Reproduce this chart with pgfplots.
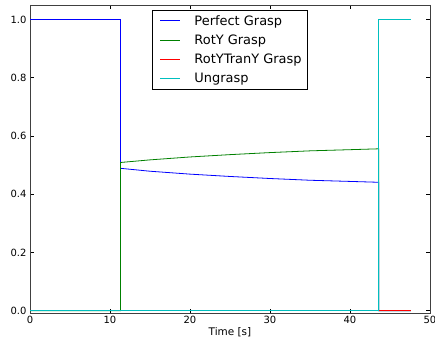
\documentclass[border=0pt]{standalone}
\usepackage{fontspec}
\setmainfont{DejaVu Sans}
\usepackage{pgfplots}
\pgfplotsset{compat=1.18}
\definecolor{mblue}{rgb}{0,0,1}
\definecolor{mgreen}{rgb}{0,0.5,0}
\definecolor{mred}{rgb}{1,0,0}
\definecolor{mcyan}{rgb}{0,0.75,0.75}
\begin{document}
\begin{tikzpicture}
\useasboundingbox (-30bp,-34bp) rectangle (405bp,313bp);
\begin{axis}[
  at={(0,0)}, anchor=south west,
  scale only axis, width=400bp, height=308bp,
  xmin=0, xmax=50, ymin=-0.008, ymax=1.05,
  xtick={0,10,20,30,40,50}, ytick={0,0.2,0.4,0.6,0.8,1.0},
  yticklabel style={/pgf/number format/.cd, fixed, fixed zerofill, precision=1},
  /pgf/number format/assume math mode=true,
  tick align=inside, major tick length=4bp,
  tick style={black, line width=0.6bp},
  axis line style={black!75, line width=0.9bp},
  ticklabel style={font=\fontsize{10}{12}\selectfont},
  xlabel={Time [s]}, xlabel style={font=\fontsize{10.5}{12}\selectfont, yshift=3bp},
  legend image code/.code={\draw[#1] (0bp,0bp) -- (20bp,0bp); \path[draw=none] (-2bp,0bp) rectangle (34bp,0bp);},
  legend style={at={(0.5,0.984)}, anchor=north, font=\fontsize{13}{15}\selectfont,
    draw=black, line width=0.6bp, inner xsep=6bp, inner ysep=1bp,
    nodes={inner sep=0pt, minimum height=19.2bp}},
  legend cell align=left,
  every axis plot/.append style={line width=0.8bp},
]
\addplot[mblue, sharp plot] coordinates {(0,1) (11.3,1) (11.3,0.489) (15,0.479) (20,0.469) (25,0.461) (30,0.454) (35,0.448) (40,0.444) (43.6,0.441) (43.6,0) (47.6,0)};
\addlegendentry{Perfect Grasp}
\addplot[mgreen, sharp plot] coordinates {(0,0) (11.3,0) (11.3,0.509) (15,0.518) (20,0.528) (25,0.536) (30,0.543) (35,0.549) (40,0.553) (43.6,0.556) (43.6,0) (47.6,0)};
\addlegendentry{RotY Grasp}
\addplot[mred, sharp plot] coordinates {(0,0) (47.6,0)};
\addlegendentry{RotYTranY Grasp}
\addplot[mcyan, sharp plot] coordinates {(0,0) (43.6,0) (43.6,1) (47.6,1)};
\addlegendentry{Ungrasp}
\end{axis}
\end{tikzpicture}
\end{document}
